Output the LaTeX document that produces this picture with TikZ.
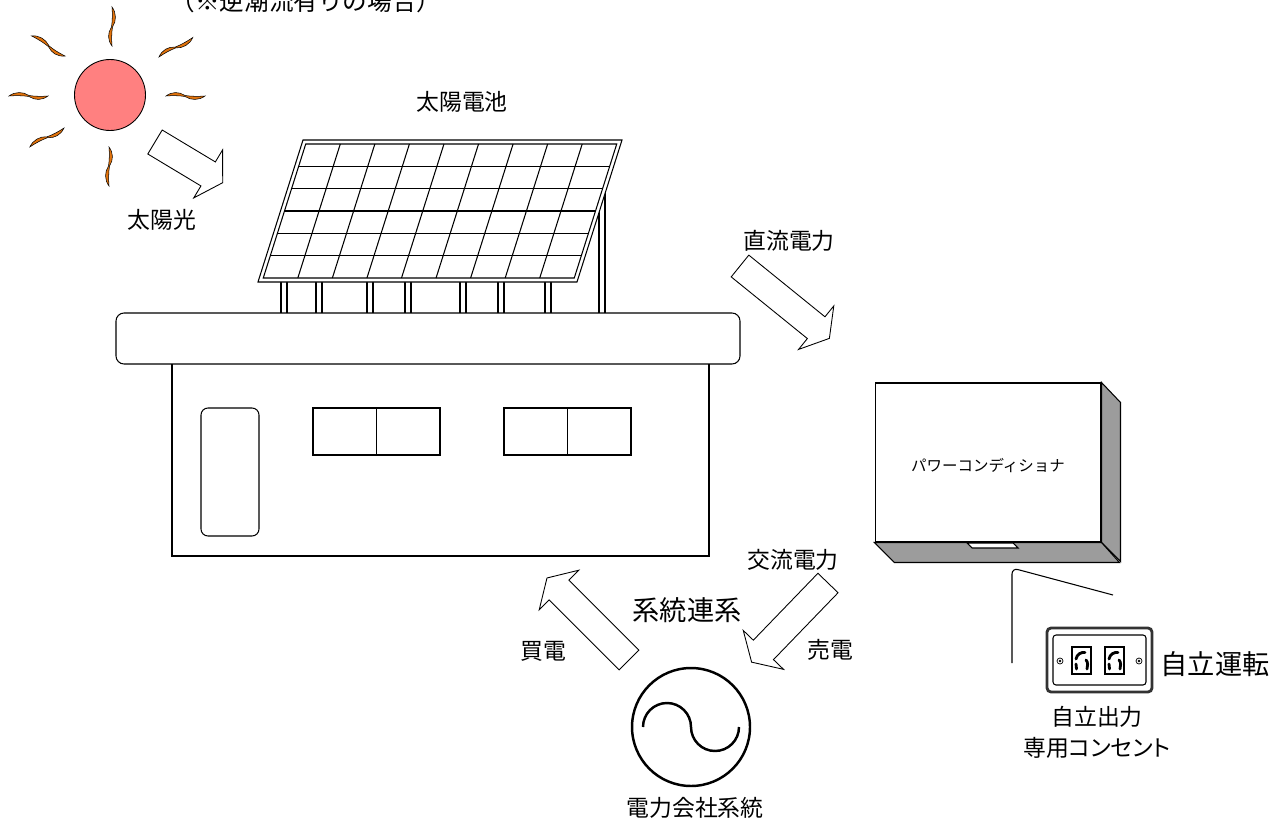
\documentclass[tikz,border=0pt]{standalone}
\usepackage{fontspec}
\usetikzlibrary{calc}
\newfontfamily\jpfont{Noto Sans CJK JP}
\newfontfamily\jpprop[RawFeature=+palt]{Noto Sans CJK JP}
\definecolor{sunpink}{HTML}{FF8080}
\definecolor{rayorange}{HTML}{E2730C}
\definecolor{boxgray}{HTML}{9C9C9C}
\tikzset{
    every node/.style = {font = \jpfont, inner sep = 0pt},
    lbl/.style = {font = \jpfont\fontsize{13pt}{15pt}\selectfont},
    biglbl/.style = {font = \jpfont\fontsize{15.5pt}{18pt}\selectfont},
    smalllbl/.style = {font = \jpfont\fontsize{8.8pt}{10pt}\selectfont},
    sunray/.pic = {
        \filldraw [fill = rayorange, line width = 0.3pt]
            (0, 0) .. controls (6, -4.5) and (13, -4.5) .. (19, -0.5)
            .. controls (25, 0.5) and (33, 0.5) .. (39, 0)
            .. controls (33, 4.5) and (25, 4.5) .. (19, 0.5)
            .. controls (13, -0.5) and (6, -0.5) .. cycle;
    }
}
% block arrow: tail centre, angle, shaft length
\newcommand{\blockarrow}[3]{%
    \begin{scope}[shift = {#1}, rotate = #2]
        \draw [fill = white, line width = 0.5pt]
            (0, -14) -- (#3, -14) -- (#3, -28) -- ({#3 + 17}, 0)
            -- (#3, 28) -- (#3, 14) -- (0, 14) -- cycle;
    \end{scope}}

\begin{document}
\begin{tikzpicture}[x = 0.02cm, y = -0.02cm, line width = 0.6pt]
        \useasboundingbox (0, 0) rectangle (1277, 828);
        \clip (0, 0) rectangle (1277, 828);

        \node [font = \jpfont\fontsize{14pt}{16pt}\selectfont] (note) at (306, 1) {（※逆潮流有りの場合）};

        % sun
        \node [circle, draw, fill = sunpink, line width = 0.5pt, minimum size = 1.42cm] (sun) at (110, 95) {};
        \foreach \ang/\px/\py in {90/112/46, 149/65/56, 180/48/96, 209/64/128, 270/109/147, 30/159/57, 0/166/96}
            \pic [rotate = \ang] at (\px, \py) {sunray};
        \blockarrow{(155, 142)}{-31}{62}
        \node [lbl] (light) at (162, 220) {太陽光};

        % panel and legs
        \foreach \lx in {281, 316, 367, 405, 460, 498, 545}
            \draw (\lx, 282) -- (\lx, 313) (\lx + 6, 282) -- (\lx + 6, 313);
        \draw (599, 180) -- (599, 313) (605, 180) -- (605, 313);
        \begin{scope}[shift = {(303, 140)}, xslant = 0.317]
            \draw [fill = white] (0, 0) rectangle (319, 142);
            \draw (4, 4) rectangle (315, 138);
            \foreach \i in {1, ..., 8}
                \draw (4 + \i * 34.56, 4) -- (4 + \i * 34.56, 138);
            \foreach \j in {1, ..., 5}
                \draw (4, 4 + \j * 22.33) -- (315, 4 + \j * 22.33);
        \end{scope}
        \node [lbl] (cell) at (462, 102) {太陽電池};

        % house
        \draw [rounded corners = 0.16cm, fill = white] (116, 313) rectangle (740, 364);
        \draw (172, 364) -- (172, 556) -- (709, 556) -- (709, 364);
        \draw [rounded corners = 0.14cm] (201, 408) rectangle (259, 536);
        \foreach \wx in {313, 504} {
            \draw (\wx, 408) rectangle (\wx + 127, 455);
            \draw (\wx + 63.5, 408) -- (\wx + 63.5, 455);
        }

        \blockarrow{(740, 266)}{-39}{98}
        \node [lbl] (dc) at (789, 241) {直流電力};

        % power conditioner
        \node [draw, fill = white, minimum width = 4.52cm, minimum height = 3.18cm] (pcs) at (988, 462.5) {};
        \node [smalllbl] (pcstext) at (988, 466) {パワーコンディショナ};
        \draw [fill = boxgray] (pcs.north east) -- ++(19, 20) -- ++(0, 159) -- (pcs.south east) -- cycle;
        \draw [fill = boxgray] (pcs.south west) -- ++(20, 20) -- ++(225, 0) -- (pcs.south east) -- cycle;
        \draw [fill = white] (967, 543) -- (1013, 543) -- (1018, 548) -- (972, 548) -- cycle;

        % cord and outlet
        \coordinate (cordend) at (1113, 595);
        \coordinate (cordtip) at (1012, 663);
        \draw [rounded corners = 0.12cm] (cordend) -- (1012, 568) -- (cordtip);
        \node [draw = black!80, line width = 1.6pt, rounded corners = 0.08cm, minimum width = 2.1cm, minimum height = 1.28cm] (outlet) at (1099.5, 660) {};
        \draw [rounded corners = 0.06cm] (1053, 635) rectangle (1146, 685);
        \foreach \sx in {1060, 1139} {
            \draw [line width = 0.4pt, fill = white] (\sx, 661) circle [radius = 3];
            \fill (\sx, 661) circle [radius = 1.4];
        }
        \foreach \kx in {1072, 1105} {
            \draw (\kx, 647) rectangle (\kx + 19, 674);
            \draw [line width = 1.6pt, line cap = round] (\kx + 4, 659) .. controls (\kx + 5, 654) and (\kx + 9, 652) .. (\kx + 13, 652.5);
            \draw [line width = 1.6pt, line cap = round] (\kx + 4, 664) -- (\kx + 4.5, 669);
            \draw [line width = 1.6pt, line cap = round] (\kx + 14, 660) .. controls (\kx + 16, 662) and (\kx + 16, 666) .. (\kx + 15, 669);
        }
        \node [biglbl] (self) at (1215, 664) {自立運転};
        \node [lbl] (selfout) at (1097, 717) {自立出力};
        \node [font = \jpprop\fontsize{13pt}{15pt}\selectfont] (socket) at (1097, 748) {専用コンセント};

        % grid side
        \node [circle, draw, line width = 1.4pt, minimum size = 2.36cm] (grid) at (691, 727) {};
        \draw [line width = 1.4pt] (643, 727) .. controls (643, 713.75) and (653.75, 703) .. (667, 703)
            .. controls (680.25, 703) and (691, 713.75) .. (691, 727)
            .. controls (691, 740.25) and (701.75, 751) .. (715, 751)
            .. controls (728.25, 751) and (739, 740.25) .. (739, 727);
        \node [lbl] (gridname) at (695, 808) {電力会社系統};
        \blockarrow{(629, 660)}{135}{99}
        \blockarrow{(828, 583)}{-134}{93}
        \node [lbl] (ac) at (793, 560) {交流電力};
        \node [biglbl] (link) at (687, 610) {系統連系};
        \node [lbl] (buy) at (543, 651) {買電};
        \node [lbl] (sell) at (830, 650) {売電};
    \end{tikzpicture}
\end{document}
